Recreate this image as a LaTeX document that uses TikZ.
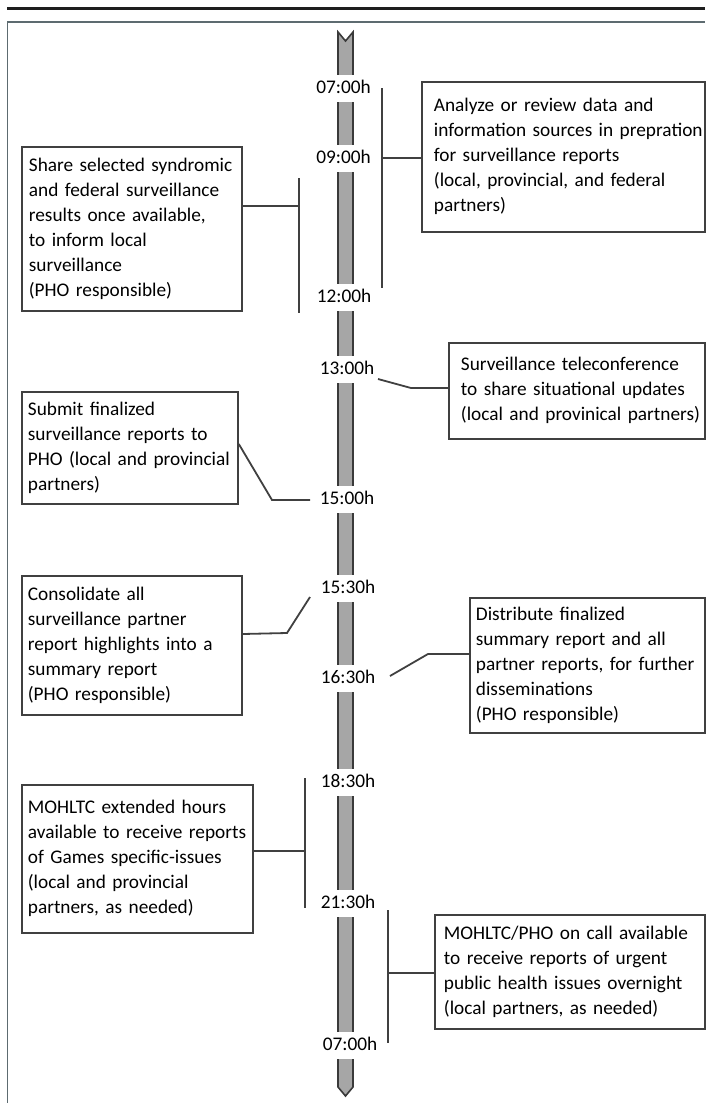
\documentclass[tikz,border=0pt]{standalone}
\usepackage{fontspec}
\setmainfont{Carlito}
\definecolor{linec}{HTML}{404040}
\definecolor{barfill}{HTML}{A6A6A6}
\definecolor{framec}{HTML}{5D6B70}
\definecolor{topc}{HTML}{1E1E1E}
\newcommand{\fs}{\fontsize{19.3}{25}\selectfont}
\newcommand{\boxlines}[1]{\begin{tabular}{@{}l@{}}#1\end{tabular}}
\tikzset{
  infobox/.style={draw=linec, line width=1.8pt, fill=white, align=left, anchor=north west, inner ysep=0pt, font=\fs},
  tlabel/.style={fill=white, inner xsep=1pt, inner ysep=4.5pt, text height=14pt, text depth=4pt, font=\fs, text=black},
  conn/.style={draw=linec, line width=1.8pt},
  brk/.style={draw=linec, line width=2.2pt}
}
\begin{document}
\begin{tikzpicture}[x=1pt,y=-1pt]
\useasboundingbox (0,0) rectangle (705,1103);
% page rules
\draw[topc, line width=2.6pt] (7,8.3) -- (705,8.3);
\draw[framec, line width=1.2pt] (7.5,1103) -- (7.5,22) -- (705,22);
% timeline bar
\draw[fill=barfill, draw=linec!90!black, line width=1.6pt, line join=miter]
  (338,32) -- (345.5,41) -- (353,32) -- (353,1087) -- (345.5,1096) -- (338,1087) -- cycle;
% time labels
\node[tlabel] (t0700) at (343.5,88) {07:00h};
\node[tlabel] (t0900) at (343.5,158) {09:00h};
\node[tlabel] (t1200) at (344,297) {12:00h};
\node[tlabel] (t1300) at (347,369) {13:00h};
\node[tlabel] (t1500) at (347,499) {15:00h};
\node[tlabel] (t1530) at (348,588) {15:30h};
\node[tlabel] (t1630) at (348,678) {16:30h};
\node[tlabel] (t1830) at (348,782) {18:30h};
\node[tlabel] (t2130) at (348,903) {21:30h};
\node[tlabel] (t0700b) at (350,1045) {07:00h};
% boxes
\node[infobox, inner xsep=7pt, text width=206pt, minimum height=164pt] (share) at (21,146)
  {\boxlines{Share selected syndromic\\and federal surveillance\\results once available,\\to inform local\\surveillance\\(PHO responsible)}};
\node[infobox, inner xsep=12pt, text width=259pt, minimum height=150pt] (analyze) at (421,81)
  {\boxlines{Analyze or review data and\\information sources in prepration\\for surveillance reports\\(local, provincial, and federal\\partners)}};
\node[infobox, inner xsep=12pt, text width=232pt, minimum height=96pt] (tele) at (448,342)
  {\boxlines{Surveillance teleconference\\to share situational updates\\(local and provinical partners)}};
\node[infobox, inner xsep=6pt, text width=204pt, minimum height=112pt] (submit) at (21,391)
  {\boxlines{Submit finalized\\surveillance reports to\\PHO (local and provincial\\partners)}};
\node[infobox, inner xsep=6pt, text width=208pt, minimum height=139pt] (consol) at (21,575)
  {\boxlines{Consolidate all\\surveillance partner\\report highlights into a\\summary report\\(PHO responsible)}};
\node[infobox, inner xsep=6pt, text width=223pt, minimum height=135pt] (distrib) at (469,597)
  {\boxlines{Distribute finalized\\summary report and all\\partner reports, for further\\disseminations\\(PHO responsible)}};
\node[infobox, inner xsep=6pt, text width=219pt, minimum height=148pt] (ext) at (21,784)
  {\boxlines{MOHLTC extended hours\\available to receive reports\\of Games specific-issues\\(local and provincial\\partners, as needed)}};
\node[infobox, inner xsep=9pt, text width=252pt, minimum height=114pt] (oncall) at (434,914)
  {\boxlines{MOHLTC/PHO on call available\\to receive reports of urgent\\public health issues overnight\\(local partners, as needed)}};
% bracket coordinates
\coordinate (b1t) at (299,178); \coordinate (b1b) at (299,313); \coordinate (b1m) at (299,206);
\coordinate (b2t) at (382,88);  \coordinate (b2b) at (382,288); \coordinate (b2m) at (382,158);
\coordinate (b3t) at (305,778); \coordinate (b3b) at (305,908); \coordinate (b3m) at (305,851);
\coordinate (b4t) at (388,910); \coordinate (b4b) at (388,1043); \coordinate (b4m) at (388,973);
% brackets
\draw[brk] (b1t) -- (b1b);
\draw[brk] (b2t) -- (b2b);
\draw[brk] (b3t) -- (b3b);
\draw[brk] (b4t) -- (b4b);
% connectors
\draw[conn] (share.east |- b1m) -- (b1m);
\draw[conn] (b2m) -- (analyze.west |- b2m);
\draw[conn] (b3m) -- (ext.east |- b3m);
\draw[conn] (b4m) -- (oncall.west |- b4m);
\coordinate (c1a) at (378,379); \coordinate (c1b) at (411,388);
\draw[conn] (c1a) -- (c1b) -- (tele.west |- c1b);
\coordinate (c2a) at (237,444); \coordinate (c2b) at (272,500); \coordinate (c2c) at (310,500);
\draw[conn] (submit.east |- c2a) -- (c2b) -- (c2c);
\coordinate (c3a) at (241,634); \coordinate (c3b) at (287,633); \coordinate (c3c) at (310,597);
\draw[conn] (consol.east |- c3a) -- (c3b) -- (c3c);
\coordinate (c4a) at (390,676); \coordinate (c4b) at (428,654);
\draw[conn] (c4a) -- (c4b) -- (distrib.west |- c4b);
\end{tikzpicture}
\end{document}
